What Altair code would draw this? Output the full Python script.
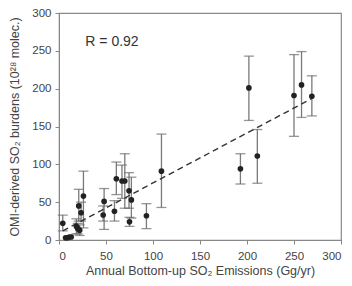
import altair as alt
import pandas as pd

emissions = [4, 7, 9, 11, 13, 18.5, 20, 21, 22, 23.5, 26, 47, 48, 59, 61, 67, 70, 74.5, 75, 77, 93, 109, 193, 202, 211, 250, 258, 269]
burdens = [22, 3, 3, 4, 4, 18, 15, 45, 13, 36, 58, 33, 51, 38, 81, 78, 78, 65, 24, 53, 32, 91, 94, 201, 111, 191, 205, 190]
err_high = [33, None, None, None, None, 28, 22, 67, 20, 50, 91, 45, 68, 52, 103, 99, 114, 89, 30, 83, 48, 140, 114, 243, 146, 245, 249, 217]
err_low = [12, None, None, None, None, 8, 8, 25, 6, 25, 16, 25, 14, 25, 60, 55, 42, 42, 18, 29, 15, 43, 74, 158, 75, 137, 162, 164]

fit_x = [4, 269]
fit_y = [12, 187]

df = pd.DataFrame({"x": emissions, "y": burdens, "hi": err_high, "lo": err_low})
err_df = df.dropna()
fit_df = pd.DataFrame({"x": fit_x, "y": fit_y})
label_df = pd.DataFrame({"x": [28], "y": [262], "t": ["R = 0.92"]})

xs = alt.Scale(domain=[0, 300], nice=False, zero=False)
ys = alt.Scale(domain=[0, 300], nice=False, zero=False)

ticks = [0, 50, 100, 150, 200, 250, 300]
x_axis = alt.Axis(values=ticks, title="Annual Bottom-up SO₂ Emissions (Gg/yr)", labelOverlap=False,
                  labelPadding=6, titlePadding=3)
y_axis = alt.Axis(values=ticks, title="OMI-derived SO₂ burdens (10²⁸ molec.)", labelOverlap=False,
                  labelPadding=4, titlePadding=10)


def X(f):
    return alt.X(f, scale=xs, axis=x_axis)


def Y(f):
    return alt.Y(f, scale=ys, axis=y_axis)


bars = alt.Chart(err_df).mark_rule(color="#7a7a7a", strokeWidth=1.3).encode(
    x=X("x:Q"), y=Y("lo:Q"), y2="hi:Q",
)
caps_hi = alt.Chart(err_df).mark_tick(color="#6a6a6a", orient="horizontal", size=10, thickness=1.3).encode(
    x=X("x:Q"), y=Y("hi:Q")
)
caps_lo = alt.Chart(err_df).mark_tick(color="#6a6a6a", orient="horizontal", size=10, thickness=1.3).encode(
    x=X("x:Q"), y=Y("lo:Q")
)
fit = alt.Chart(fit_df).mark_line(color="#333333", strokeDash=[6, 4], strokeWidth=1.4).encode(
    x=X("x:Q"), y=Y("y:Q")
)
pts = alt.Chart(df).mark_circle(color="#222222", size=32, opacity=1).encode(
    x=X("x:Q"), y=Y("y:Q")
)
label = alt.Chart(label_df).mark_text(align="left", baseline="middle", fontSize=14, font="Liberation Sans", color="#333333").encode(
    x=X("x:Q"), y=Y("y:Q"), text="t:N"
)

chart = alt.layer(bars, caps_hi, caps_lo, fit, pts, label).properties(
    width=282, height=227,
    autosize=alt.AutoSizeParams(type="none"),
    padding={"left": 51, "top": 5, "right": 3, "bottom": 46},
).configure_view(stroke="#888888", strokeWidth=1.2).configure_axis(
    grid=False,
    labelOverlap=False,
    domainColor="#888888",
    tickColor="#888888",
    tickSize=4,
    labelFont="Liberation Sans",
    titleFont="Liberation Sans",
    labelFontSize=11.5,
    titleFontSize=12.5,
    titleFontWeight="normal",
    labelColor="#444444",
    titleColor="#444444",
)

chart.save("out.html", embed_options={"renderer": "svg", "actions": False})
